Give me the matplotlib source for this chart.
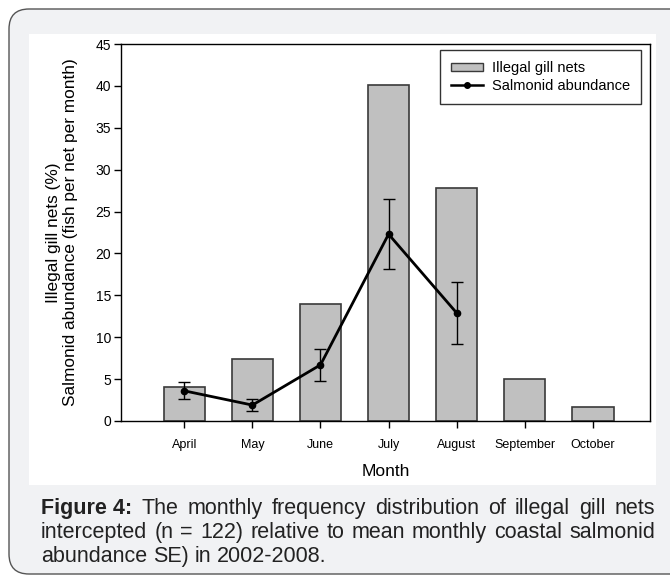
import matplotlib
matplotlib.use("Agg")
import matplotlib.pyplot as plt
from matplotlib.patches import FancyBboxPatch, Rectangle, Patch
from matplotlib.lines import Line2D
import numpy as np

plt.rcParams['font.family'] = ['Liberation Sans', 'DejaVu Sans']

# data
months = ["April", "May", "June", "July", "August", "September", "October"]
gill_nets = [4.1, 7.4, 14.0, 40.1, 27.8, 5.0, 1.7]
salmon_months = ["April", "May", "June", "July", "August"]
salmon_mean = [3.6, 1.9, 6.7, 22.3, 12.9]
salmon_se = [1.0, 0.7, 1.95, 4.2, 3.65]

W, H = 670, 580
fig = plt.figure(figsize=(W / 100, H / 100), dpi=100)
fig.patch.set_facecolor("white")

# outer rounded card and inner white panel (pixel units -> inches)
card = FancyBboxPatch((9 / 100, 6 / 100), 700 / 100, 565 / 100,
                      boxstyle="round,pad=0,rounding_size=0.2",
                      transform=fig.dpi_scale_trans, facecolor="#f1f2f4",
                      edgecolor="#555555", linewidth=1.0, zorder=0)
fig.patches.append(card)
panel = Rectangle((29 / 100, (H - 485) / 100), 627 / 100, 451 / 100,
                  transform=fig.dpi_scale_trans, facecolor="white",
                  edgecolor="none", zorder=1)
fig.patches.append(panel)

# axes placed in pixels
x0, x1, ytop, ybot = 121, 650, 44, 421
ax = fig.add_axes([x0 / W, (H - ybot) / H, (x1 - x0) / W, (ybot - ytop) / H])
ax.set_zorder(3)
ax.set_facecolor("white")

x = np.arange(len(months))
ax.bar(x, gill_nets, width=0.61, color="#c0c0c0", edgecolor="#3a3a3a",
       linewidth=1.2, zorder=2)

xs = [months.index(m) for m in salmon_months]
ax.errorbar(xs, salmon_mean, yerr=salmon_se, color="black", linewidth=2.0,
            marker="o", markersize=4.5, ecolor="black", elinewidth=1.0,
            capsize=4, capthick=1.0, zorder=3)

ax.set_xlim(-0.93, 6.84)
ax.set_ylim(0, 45)
ax.set_yticks(range(0, 46, 5))
ax.set_xticks(x)
ax.set_xticklabels(months, fontsize=9)
ax.tick_params(axis="y", labelsize=10, direction="out", length=5, width=1, pad=2)
ax.tick_params(axis="x", direction="out", length=5, width=1, pad=8)
for s in ax.spines.values():
    s.set_linewidth(1.0)

ax.set_xlabel("Month", fontsize=12.5, labelpad=9)
ax.set_ylabel("Illegal gill nets (%)\nSalmonid abundance (fish per net per month)",
              fontsize=12.4, labelpad=13, linespacing=1.15)

handles = [Patch(facecolor="#c0c0c0", edgecolor="#3a3a3a"),
           Line2D([0], [0], color="black", linewidth=1.8, marker="o", markersize=4)]
leg = ax.legend(handles, ["Illegal gill nets", "Salmonid abundance"],
                loc="upper right", bbox_to_anchor=(1 - 9 / 529, 1 - 6 / 377),
                borderaxespad=0, fontsize=10.5,
                frameon=True, fancybox=False, edgecolor="black",
                handlelength=2.2, handleheight=0.5, borderpad=0.75,
                labelspacing=0.25, handletextpad=0.6)
leg.get_frame().set_linewidth(1.0)

# caption, first two lines justified by spacing words by hand
cap_lines = [
    [("Figure 4:", "bold"), ("The", "normal"), ("monthly", "normal"), ("frequency", "normal"),
     ("distribution", "normal"), ("of", "normal"), ("illegal", "normal"), ("gill", "normal"),
     ("nets", "normal")],
    [(w, "normal") for w in "intercepted (n = 122) relative to mean monthly coastal salmonid".split()],
    [(w, "normal") for w in "abundance SE) in 2002-2008.".split()],
]
cap_left, cap_right = 41, 655
cap_y = [498, 522, 546]
fs = 15.5
renderer = fig.canvas.get_renderer()
for i, words in enumerate(cap_lines):
    y = 1 - cap_y[i] / H
    texts = []
    for w, wt in words:
        t = fig.text(0, y, w, fontsize=fs, fontweight=wt, va="top", ha="left",
                     color="#222222", zorder=5)
        texts.append(t)
    widths = [t.get_window_extent(renderer).width for t in texts]
    if i < 2:
        gap = (cap_right - cap_left - sum(widths)) / (len(texts) - 1)
    else:
        gap = fs * 0.38
    pos = cap_left
    for t, wd in zip(texts, widths):
        t.set_x(pos / W)
        pos += wd + gap

fig.savefig("out.png", dpi=100)
